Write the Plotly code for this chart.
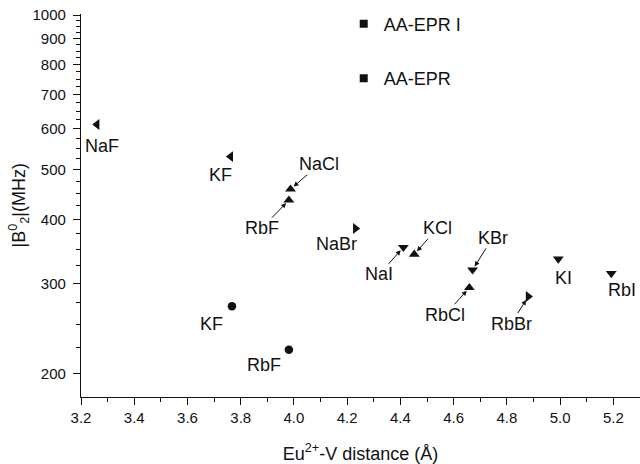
import math
import plotly.graph_objects as go

# ---------------- data ----------------
left_names = ["NaF", "KF"]
left_x = [3.26, 3.762]
left_y = [612, 530]

up_names = ["NaCl", "RbF", "KCl", "RbCl"]
up_x = [3.987, 3.981, 4.452, 4.659]
up_y = [458, 436, 342, 294.5]

right_names = ["NaBr", "RbBr"]
right_x = [4.231, 4.880]
right_y = [384, 283]

down_names = ["NaI", "KBr", "KI", "RbI"]
down_x = [4.411, 4.671, 4.993, 5.192]
down_y = [353, 319, 335, 314]

circle_names = ["KF", "RbF"]
circle_x = [3.767, 3.981]
circle_y = [271, 223]

legend_names = ["AA-EPR I", "AA-EPR"]

x_ticks = [3.2, 3.4, 3.6, 3.8, 4.0, 4.2, 4.4, 4.6, 4.8, 5.0, 5.2]
y_ticks = [200, 300, 400, 500, 600, 700, 800, 900, 1000]
y_minor = [v for v in range(200, 1001, 25) if v % 100 != 0]

# ---------------- label placement (pixel offsets of label centre, arrow?) ----------------
label_style = {
    ("left", "NaF"): (5, 21, False),
    ("left", "KF"): (-10, 18, False),
    ("up", "NaCl"): (29, -25, True),
    ("up", "RbF"): (-27, 28, True),
    ("up", "KCl"): (23, -26, True),
    ("up", "RbCl"): (-24, 27, True),
    ("right", "NaBr"): (-19, 16, False),
    ("right", "RbBr"): (-17, 27, True),
    ("down", "NaI"): (-24, 27, True),
    ("down", "KBr"): (20, -32, True),
    ("down", "KI"): (5, 19, False),
    ("down", "RbI"): (11, 17, False),
    ("circle", "KF"): (-20, 18, False),
    ("circle", "RbF"): (-25, 15, False),
}

FONT = "Liberation Sans, Arial, sans-serif"
INK = "#111111"

series = [
    ("left", left_names, left_x, left_y, "triangle-left", 9.5),
    ("up", up_names, up_x, up_y, "triangle-up", 9.5),
    ("right", right_names, right_x, right_y, "triangle-right", 9.5),
    ("down", down_names, down_x, down_y, "triangle-down", 9.5),
    ("circle", circle_names, circle_x, circle_y, "circle", 8.5),
]

fig = go.Figure()
annotations = []
for key, names, xs, ys, sym, size in series:
    fig.add_trace(go.Scatter(
        x=xs, y=ys, mode="markers", text=names, showlegend=False,
        marker=dict(symbol=sym, size=size, color=INK, line=dict(width=0)),
        hovertemplate="%{text}: %{x}, %{y}<extra></extra>",
    ))
    for n, xv, yv in zip(names, xs, ys):
        dx, dy, arrow = label_style[(key, n)]
        a = dict(x=xv, y=math.log10(yv), xref="x", yref="y", text=n,
                 font=dict(family=FONT, size=18, color=INK))
        if arrow:
            a.update(showarrow=True, ax=dx, ay=dy, axref="pixel", ayref="pixel",
                     arrowhead=2, arrowsize=1, arrowwidth=1, arrowcolor=INK,
                     standoff=4, borderpad=0)
        else:
            a.update(showarrow=False, xshift=dx, yshift=-dy)
        annotations.append(a)

# y-axis title
annotations.append(dict(
    x=-0.111, y=0.5, xref="paper", yref="paper", showarrow=False,
    text="|B<sup>0</sup><sub>2</sub>|(MHz)", textangle=-90,
    xanchor="center", yanchor="middle",
    font=dict(family=FONT, size=18, color=INK),
))

for i, nm in enumerate(legend_names):
    fig.add_trace(go.Scatter(
        x=[None], y=[None], mode="markers", name=nm, legendgroup=f"g{i}",
        marker=dict(symbol="square", size=8, color=INK),
    ))

fig.update_layout(
    width=640, height=464,
    margin=dict(l=81, r=0, t=14, b=67, autoexpand=False),
    paper_bgcolor="white", plot_bgcolor="white",
    font=dict(family=FONT, size=15, color=INK),
    annotations=annotations,
    showlegend=True,
    legend=dict(
        x=0.47, y=1.022, xanchor="left", yanchor="top",
        font=dict(family=FONT, size=18, color=INK),
        tracegroupgap=28, itemwidth=30, bgcolor="rgba(0,0,0,0)",
        traceorder="grouped",
    ),
    xaxis=dict(
        range=[3.2, 5.3], tickmode="array", tickvals=x_ticks,
        ticktext=[f"{v:.1f}" for v in x_ticks], automargin=False,
        showline=True, linecolor=INK, linewidth=1.3, mirror=False,
        ticks="outside", ticklen=7, tickwidth=1.3, tickcolor=INK,
        minor=dict(dtick=0.1, tick0=3.2, ticks="outside", ticklen=4,
                   tickwidth=1.2, tickcolor=INK, showgrid=False),
        showgrid=False, zeroline=False,
        tickfont=dict(size=15),
        title=dict(text="Eu<sup>2+</sup>-V distance (Å)",
                   font=dict(size=18), standoff=26),
    ),
    yaxis=dict(
        type="log", range=[math.log10(180.4), math.log10(1004.5)],
        tickmode="array", tickvals=y_ticks, ticktext=[str(v) for v in y_ticks],
        automargin=False, ticklabelstandoff=4,
        showline=True, linecolor=INK, linewidth=1.3, mirror=False,
        ticks="outside", ticklen=7, tickwidth=1.3, tickcolor=INK,
        minor=dict(tickmode="array", tickvals=y_minor, ticks="outside",
                   ticklen=4, tickwidth=1.2, tickcolor=INK, showgrid=False),
        showgrid=False, zeroline=False,
        tickfont=dict(size=15),
    ),
)

fig.write_html("out.html", config={"displayModeBar": False},
               post_script="document.body.style.margin='0px';")
